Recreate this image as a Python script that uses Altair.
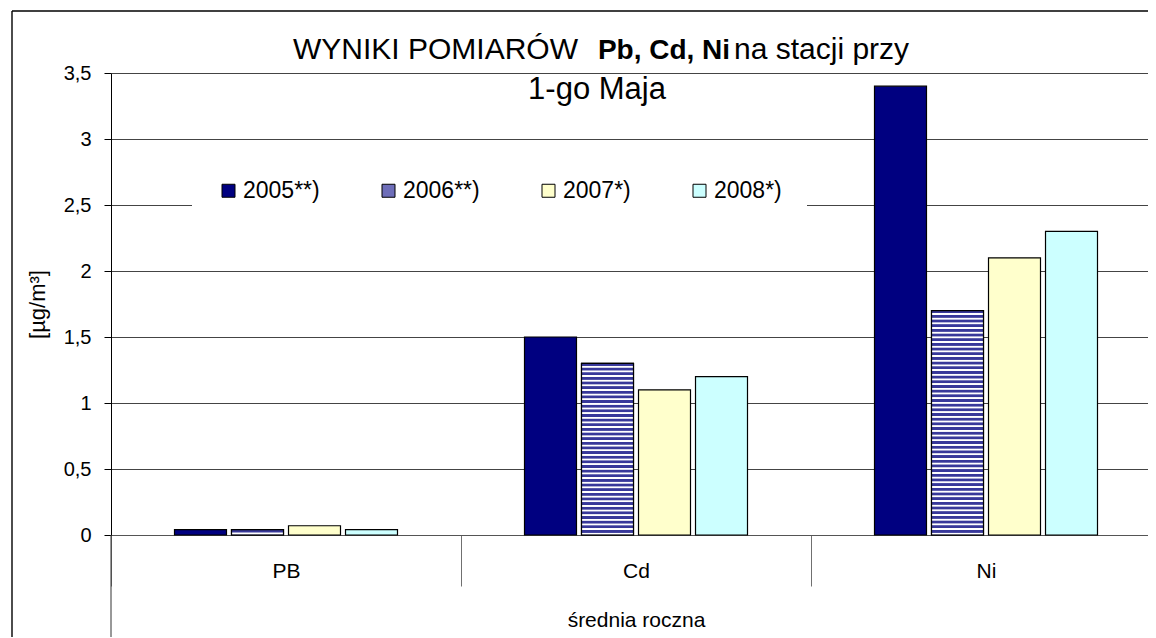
import altair as alt
import pandas as pd

# ---- data ----
categories = ["PB", "Cd", "Ni"]
years = ["2005**)", "2006**)", "2007*)", "2008*)"]
values_2005 = [0.04, 1.5, 3.4]
values_2006 = [0.04, 1.3, 1.7]
values_2007 = [0.07, 1.1, 2.1]
values_2008 = [0.04, 1.2, 2.3]
colors = ["#000080", "#6E6EB9", "#FFFFCC", "#CCFFFF"]
y_ticks = [0, 0.5, 1, 1.5, 2, 2.5, 3, 3.5]

rows = []
for yr, vals in zip(years, [values_2005, values_2006, values_2007, values_2008]):
    for c, v in zip(categories, vals):
        rows.append({"kategoria": c, "rok": yr, "wartosc": v})
df = pd.DataFrame(rows)

W, H = 1037, 462          # visible plot area (it runs off the right edge)
XRANGE = 1050             # full category axis length
YMAX = 3.5
PAD_BOTTOM = 102
FONT = "Liberation Sans"
STRIPE_BLUE = "#38389A"

# empty slots at both ends of each category give the gap around the bar group
offset_domain = ["_l"] + years + ["_r"]

x_enc = alt.X(
    "kategoria:N", sort=categories,
    scale=alt.Scale(range=[0, XRANGE], paddingInner=0, paddingOuter=0),
    title="średnia roczna",
    axis=alt.Axis(
        tickBand="extent", tickSize=51, tickColor="#707070", tickWidth=1,
        domainColor="#555555", domainWidth=1,
        labelAngle=0, labelFont=FONT, labelFontSize=21, labelColor="black",
        labelPadding=-26,
        titleFont=FONT, titleFontSize=21, titleFontWeight="normal",
        titleColor="black", titlePadding=23, titleX=XRANGE / 2, grid=False,
    ),
)
xoff_enc = alt.XOffset(
    "rok:N",
    scale=alt.Scale(domain=offset_domain, paddingInner=0.088, paddingOuter=0.114),
)
y_enc = alt.Y(
    "wartosc:Q",
    scale=alt.Scale(domain=[0, YMAX], nice=False, zero=True),
    title="[µg/m³]",
    axis=alt.Axis(
        values=y_ticks,
        labelExpr="replace(format(datum.value, '.1~f'), '.', ',')",
        labelFont=FONT, labelFontSize=20, labelColor="black", labelPadding=13,
        tickSize=7, tickColor="black", domainColor="black", domainWidth=1,
        grid=True, gridColor="#444444", gridWidth=1,
        titleFont=FONT, titleFontSize=22, titleFontWeight="normal",
        titleColor="black", titlePadding=14,
    ),
)

bars = alt.Chart(df).mark_bar(stroke="black", strokeWidth=1.2).encode(
    x=x_enc,
    xOffset=xoff_enc,
    y=y_enc,
    color=alt.Color(
        "rok:N", sort=years,
        scale=alt.Scale(domain=years, range=colors),
        legend=alt.Legend(
            title=None, orient="none", legendX=81, legendY=81,
            direction="horizontal", symbolType="square", symbolSize=169,
            symbolStrokeColor="black", symbolStrokeWidth=1,
            labelFont=FONT, labelFontSize=23, labelColor="black",
            labelOffset=3, columnPadding=57, padding=25, fillColor="white",
        ),
    ),
)


def stripes(v):
    h = v * H / YMAX
    n = max(1, round(h / 4.7))
    stops = []
    s = 1.0 / n
    for i in range(n):
        b = i * s
        stops += [
            {"offset": b, "color": STRIPE_BLUE},
            {"offset": b + 0.45 * s, "color": STRIPE_BLUE},
            {"offset": b + 0.6 * s, "color": "#ffffff"},
            {"offset": b + 0.85 * s, "color": "#ffffff"},
            {"offset": min(1.0, b + s), "color": STRIPE_BLUE},
        ]
    return {"gradient": "linear", "x1": 0, "y1": 0, "x2": 0, "y2": 1, "stops": stops}


striped_layers = []
for c, v in zip(categories, values_2006):
    striped_layers.append(
        alt.Chart(df).transform_filter(
            (alt.datum.rok == years[1]) & (alt.datum.kategoria == c)
        ).mark_bar(fill=stripes(v), stroke="black", strokeWidth=1.2).encode(
            x=x_enc, xOffset=xoff_enc, y=y_enc
        )
    )

one = pd.DataFrame({"d": [0]})
# outer chart frame: only its left and top sides fall inside the picture
frame_top = alt.Chart(one).mark_rule(color="black", strokeWidth=1.4).encode(
    x=alt.value(-99), x2=alt.value(W), y=alt.value(-62)
)
frame_left = alt.Chart(one).mark_rule(color="black", strokeWidth=1.4).encode(
    x=alt.value(-99), y=alt.value(-62), y2=alt.value(H + PAD_BOTTOM)
)
axis_ext = alt.Chart(one).mark_rule(color="#333333", strokeWidth=1).encode(
    x=alt.value(0), y=alt.value(H), y2=alt.value(H + PAD_BOTTOM)
)

t1 = alt.Chart(one).mark_text(
    text="WYNIKI POMIARÓW", align="right", baseline="alphabetic",
    font=FONT, fontSize=30, color="black"
).encode(x=alt.value(467), y=alt.value(-14))
t2 = alt.Chart(one).mark_text(
    text="Pb, Cd, Ni", align="center", baseline="alphabetic",
    font=FONT, fontSize=28, fontWeight="bold", color="black"
).encode(x=alt.value(553), y=alt.value(-14))
t3 = alt.Chart(one).mark_text(
    text="na stacji przy", align="left", baseline="alphabetic",
    font=FONT, fontSize=30, color="black"
).encode(x=alt.value(623), y=alt.value(-14))
t4 = alt.Chart(one).mark_text(
    text="1-go Maja", align="center", baseline="alphabetic",
    font=FONT, fontSize=31, color="black"
).encode(x=alt.value(486), y=alt.value(26))

chart = alt.layer(
    bars, *striped_layers, frame_top, frame_left, axis_ext, t1, t2, t3, t4
).properties(
    width=W, height=H,
    autosize=alt.AutoSizeParams(type="none"),
    padding={"left": 103, "top": 65, "right": 0, "bottom": PAD_BOTTOM},
).configure_view(stroke=None)

chart.save("out.html", embed_options={"renderer": "svg", "actions": False})
